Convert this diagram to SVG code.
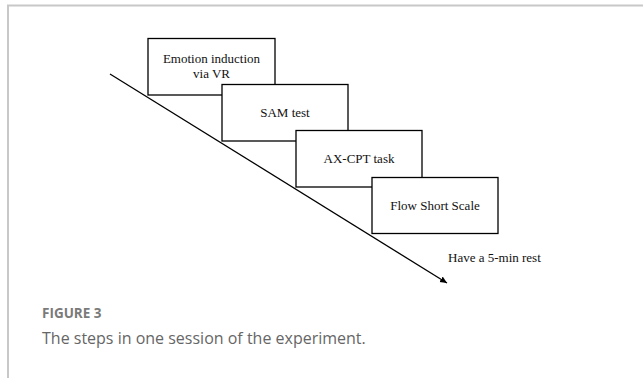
<svg xmlns="http://www.w3.org/2000/svg" width="643" height="378" viewBox="0 0 643 378">
<style>
.frame{stroke:#c8c8c8;stroke-width:2;fill:none}
.box{fill:#fff;stroke:#000;stroke-width:1.3}
.lbl{font-family:"Liberation Serif","Times New Roman",serif;font-size:13px;fill:#111;text-anchor:middle}
.note{font-family:"Liberation Serif","Times New Roman",serif;font-size:13px;fill:#111}
.figt{font-family:"Open Sans","Noto Sans",sans-serif;font-size:13.5px;font-weight:bold;fill:#7a7a7a}
.cap{font-family:"Open Sans","Noto Sans",sans-serif;font-size:16px;fill:#666}
</style>
<defs>
<marker id="ah" markerWidth="8" markerHeight="8" refX="7" refY="4" orient="auto" markerUnits="userSpaceOnUse">
<path d="M0,0.8 L7,4 L0,7.2 Z" fill="#000"/>
</marker>
</defs>
<path class="frame" d="M8,378 V5.5 H643"/>
<g id="connectors">
<line x1="110" y1="74" x2="447" y2="283" stroke="#000" stroke-width="1.3" marker-end="url(#ah)"/>
</g>
<g id="node1">
<rect class="box" x="148" y="38.5" width="127" height="56.5"/>
<text class="lbl" x="211.5" y="63">Emotion induction</text>
<text class="lbl" x="211.5" y="78">via VR</text>
</g>
<g id="node2">
<rect class="box" x="222" y="84.5" width="126" height="56.5"/>
<text class="lbl" x="285" y="117">SAM test</text>
</g>
<g id="node3">
<rect class="box" x="296" y="130.5" width="126" height="56.5"/>
<text class="lbl" x="359" y="163">AX-CPT task</text>
</g>
<g id="node4">
<rect class="box" x="372" y="177.5" width="126" height="56"/>
<text class="lbl" x="435" y="210">Flow Short Scale</text>
</g>
<g id="note">
<text class="note" x="448" y="262">Have a 5-min rest</text>
</g>
<text class="figt" x="42" y="317.5">FIGURE 3</text>
<text class="cap" x="42" y="344">The steps in one session of the experiment.</text>
</svg>
